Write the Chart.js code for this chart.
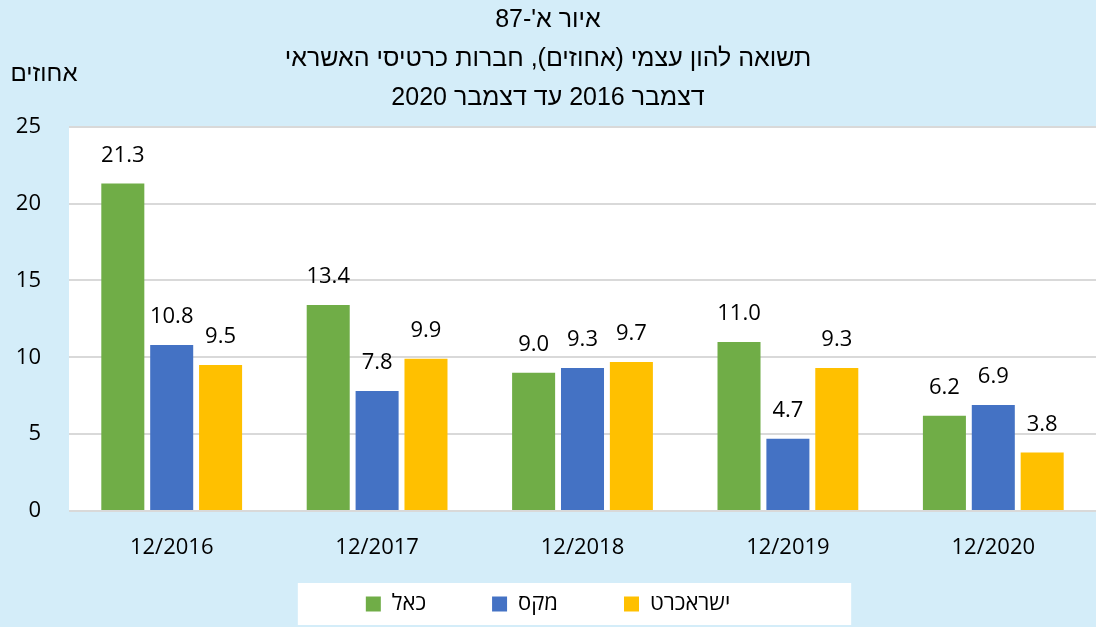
<!DOCTYPE html>
<html lang="he">
<head>
<meta charset="utf-8">
<script src="https://cdn.jsdelivr.net/npm/chart.js@4.4.1/dist/chart.umd.min.js"></script>
<style>
  html, body { margin: 0; padding: 0; background: #d4edf9; }
  #wrap { width: 1096px; height: 627px; position: relative; }
</style>
</head>
<body>
<div id="wrap"><canvas id="roe" dir="rtl"></canvas></div>
<script>
// data
const categories = ["12/2016", "12/2017", "12/2018", "12/2019", "12/2020"];
const seriesNames = ["כאל", "מקס", "ישראכרט"];
const calValues = [21.3, 13.4, 9.0, 11.0, 6.2];
const maxValues = [10.8, 7.8, 9.3, 4.7, 6.9];
const isracardValues = [9.5, 9.9, 9.7, 9.3, 3.8];
const yTickMax = 25;
const yTickStep = 5;
const titleLines = ["איור א'-87", "תשואה להון עצמי (אחוזים), חברות כרטיסי האשראי", "דצמבר 2016 עד דצמבר 2020"];
const yUnit = "אחוזים";

const FONT = "'Open Sans', 'Noto Sans', 'DejaVu Sans', sans-serif";
const TITLE_FONT = "'Liberation Sans', 'Open Sans', sans-serif";
const colors = ["#70ad47", "#4472c4", "#ffc000"];

// backgrounds: page, plot area, legend box
const backgrounds = {
  id: "backgrounds",
  beforeDraw(chart) {
    const { ctx, chartArea: a, width, height } = chart;
    ctx.save();
    ctx.fillStyle = "#d4edf9";
    ctx.fillRect(0, 0, width, height);
    ctx.fillStyle = "#ffffff";
    ctx.fillRect(a.left, a.top, a.right - a.left, a.bottom - a.top);

    const boxes = chart.legend && chart.legend.legendHitBoxes;
    if (boxes && boxes.length) {
      const first = boxes[0];
      const last = boxes[boxes.length - 1];
      const cy = first.top + first.height / 2;
      const left = first.left - 68;
      const right = last.left + last.width + 121;
      ctx.fillRect(left, cy - 21, right - left, 42);
    }
    ctx.restore();
  }
};

// value labels above bars + unit label above y axis
const valueLabels = {
  id: "valueLabels",
  afterDatasetsDraw(chart) {
    const { ctx, chartArea: a } = chart;
    ctx.save();
    ctx.font = "22px " + FONT;
    ctx.fillStyle = "#000";
    ctx.textAlign = "center";
    ctx.textBaseline = "middle";
    chart.data.datasets.forEach((ds, i) => {
      const meta = chart.getDatasetMeta(i);
      meta.data.forEach((bar, j) => {
        ctx.fillText(ds.data[j].toFixed(1), bar.x, bar.y - 28);
      });
    });
    ctx.font = "24px " + TITLE_FONT;
    ctx.fillText(yUnit, a.left - 25, a.top - 52);
    ctx.restore();
  }
};

new Chart(document.getElementById("roe"), {
  type: "bar",
  data: {
    labels: categories,
    datasets: [
      { label: seriesNames[0], data: calValues, backgroundColor: colors[0] },
      { label: seriesNames[1], data: maxValues, backgroundColor: colors[1] },
      { label: seriesNames[2], data: isracardValues, backgroundColor: colors[2] }
    ]
  },
  options: {
    responsive: true,
    maintainAspectRatio: false,
    animation: false,
    devicePixelRatio: 1,
    layout: { padding: { top: 0, right: 0, bottom: 2, left: 0 } },
    datasets: {
      bar: { categoryPercentage: 0.714, barPercentage: 0.88 }
    },
    plugins: {
      title: {
        display: true,
        text: titleLines,
        color: "#000",
        font: { family: TITLE_FONT, size: 25, weight: "normal", lineHeight: 1.57 },
        padding: { top: 0, bottom: 9 }
      },
      legend: {
        position: "bottom",
        labels: {
          color: "#000",
          font: { family: FONT, size: 22 },
          boxWidth: 15,
          boxHeight: 15,
          padding: 66
        }
      },
      tooltip: { enabled: false }
    },
    scales: {
      x: {
        grid: { display: false },
        border: { display: false },
        // mirror keeps the labels from being clipped to the thin axis box
        ticks: { color: "#000", font: { family: FONT, size: 22 }, mirror: true, padding: -50 },
        afterFit(scale) { scale.height = 16; }
      },
      y: {
        min: 0,
        max: yTickMax,
        grid: { color: "#d9d9d9", lineWidth: 2, drawTicks: false },
        border: { display: false },
        ticks: {
          stepSize: yTickStep,
          color: "#000",
          font: { family: FONT, size: 22 },
          padding: 28
        },
        afterFit(scale) { scale.width = 69; }
      }
    }
  },
  plugins: [backgrounds, valueLabels]
});
</script>
</body>
</html>
